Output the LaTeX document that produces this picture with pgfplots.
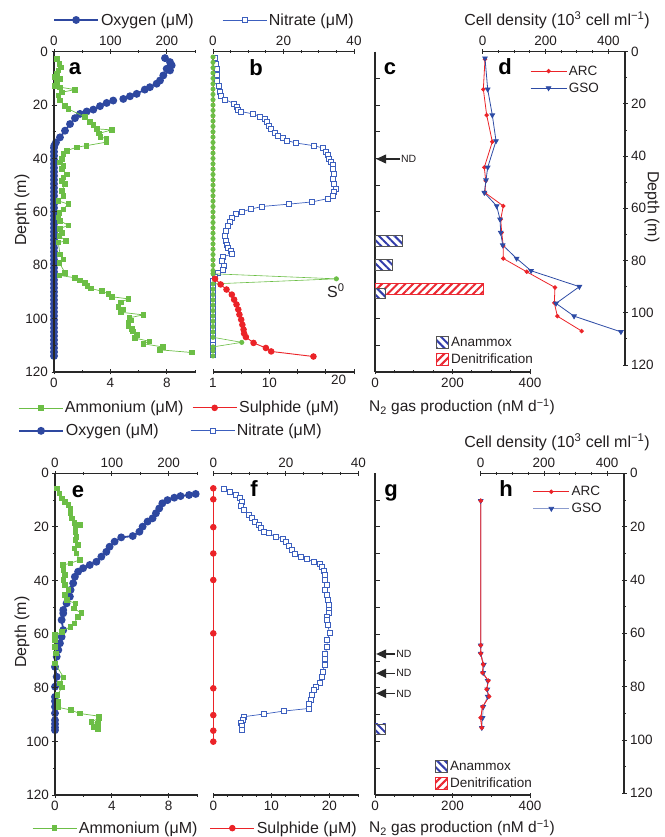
\documentclass[border=0pt]{standalone}
\usepackage{fontspec}
\setmainfont{Liberation Sans}
\usepackage{pgfplots}
\pgfplotsset{compat=1.18}
\usetikzlibrary{patterns.meta,arrows.meta}

\definecolor{oxyblue}{RGB}{46,72,160}
\definecolor{nitblue}{RGB}{60,95,190}
\definecolor{ammgreen}{RGB}{108,190,70}
\definecolor{sulred}{RGB}{235,35,40}
\definecolor{gsoblue}{RGB}{45,75,165}
\definecolor{anblue}{RGB}{50,60,170}
\definecolor{denred}{RGB}{235,40,50}
\definecolor{axc}{RGB}{40,40,40}
\definecolor{txc}{RGB}{35,31,32}

\newcommand{\tks}{\fontsize{13.5}{15}\selectfont}
\newcommand{\lbs}{\fontsize{16}{19}\selectfont}
\newcommand{\nlb}{\fontsize{15.5}{18}\selectfont}
\newcommand{\sms}{\fontsize{13.5}{16}\selectfont}
\newcommand{\nds}{\fontsize{10.5}{12}\selectfont}
\newcommand{\pls}{\fontsize{22}{24}\selectfont\bfseries}

\pgfplotsset{
  base/.style={scale only axis, clip=false, anchor=south west,
    y dir=reverse, ymin=0, ymax=120,
    axis line style={line width=1.1pt, draw=axc},
    tick style={line width=0.9pt, draw=axc},
    major tick length=5pt, minor tick length=3pt,
    tick label style={font=\tks, text=txc},
    /pgf/number format/assume math mode=true,
    xtick align=inside, ytick align=outside,
    legend cell align=left,
    legend style={draw=none, fill=none, font=\lbs, text=txc, inner sep=0pt, anchor=west},
  },
  noarr/.style={axis line style={-},
    every outer x axis line/.append style={-},
    every outer y axis line/.append style={-}},
  lineleg/.style={legend image code/.code={\draw[mark repeat=2,mark phase=2,##1] plot coordinates {(0pt,0pt) (22pt,0pt) (44pt,0pt)};}},
  shortleg/.style={legend image code/.code={\draw[mark repeat=2,mark phase=2,##1] plot coordinates {(0pt,0pt) (18pt,0pt) (36pt,0pt)};}},
  boxleg/.style={legend image code/.code={\draw[##1] (0pt,-6pt) rectangle (12pt,6pt);}},
  oxy/.style={oxyblue, line width=1.8pt, mark=*, mark size=3pt, mark options={solid, fill=oxyblue, draw=oxyblue}},
  amm/.style={ammgreen, line width=0.7pt, mark=square*, mark size=2.3pt, mark options={fill=ammgreen, draw=ammgreen}},
  nit/.style={nitblue, line width=0.7pt, mark=square*, mark size=2.5pt, mark options={fill=white, draw=nitblue, line width=0.8pt}},
  sul/.style={sulred, line width=0.9pt, mark=*, mark size=2.8pt, mark options={fill=sulred, draw=sulred}},
  szero/.style={ammgreen, line width=0.6pt, mark=*, mark size=2.2pt, mark options={fill=ammgreen, draw=ammgreen}},
  arc/.style={sulred, line width=0.8pt, mark=*, mark size=1.8pt, mark options={fill=sulred, draw=sulred}},
  gso/.style={gsoblue, line width=0.8pt, mark=triangle*, mark size=2.6pt, mark options={rotate=180, fill=gsoblue, draw=gsoblue}},
  anam/.style={xbar, bar width=4, bar shift=0pt, draw=axc!80, line width=0.9pt, fill=white,
    postaction={pattern color=anblue, pattern={Lines[angle=-45,distance=5.5pt,line width=2pt]}}, boxleg},
  denit/.style={xbar, bar width=4, bar shift=0pt, draw=denred, line width=0.9pt, fill=white,
    postaction={pattern color=denred, pattern={Lines[angle=45,distance=5.5pt,line width=2pt]}}, boxleg},
}

\begin{document}
\begin{tikzpicture}
\useasboundingbox (0,0) rectangle (664pt,837pt);

% ---------- a: oxygen (top axis)
\begin{axis}[base, at={(54pt,465pt)}, width=141pt, height=320.3pt,
  axis x line=top, axis y line=none, noarr, ytick=\empty,
  xmin=0, xmax=250, xtick={0,100,200}, minor xtick={50,150,250},
  lineleg, legend style={at={(axis description cs:-0.007,1.099)}}]
\addplot[oxy] coordinates {(196.8,2.4)(205.7,3.9)(208.7,5.1)(199.8,6.4)(205.7,7.0)(193.8,8.9)(188,10.8)(182,12.0)(170,13.3)(161,14.2)(146.6,15.8)(134.7,16.7)(122.9,17.7)};
\addlegendentry{Oxygen (μM)}
\addplot[oxy, forget plot] coordinates {(105,18.3)(93.4,19.2)(81.6,20.4)(69.7,21.7)(58,22.4)(46.1,23.3)(37.2,24.9)(28.4,27.1)(19.5,29.6)(10.6,32.1)(3.5,34.0)(0.5,35.2)
(0,36)(0,37.5)(0,39)(0,40.5)(0,42)(0,43.5)(0,45)(0,46.5)(0,48)(0,49.5)(0,51)(0,52.5)(0,54)(0,55.5)(0,57)(0,58.5)(0,60)(0,61.5)(0,63)(0,64.5)(0,66)(0,67.5)(0,69)(0,70.5)(0,72)(0,73.5)(0,75)(0,76.5)(0,78)(0,79.5)(0,81)(0,82.5)(0,84)(0,85.5)(0,87)(0,88.5)(0,90)(0,91.5)(0,93)(0,94.5)(0,96)(0,97.5)(0,99)(0,100.5)(0,102)(0,103.5)(0,105)(0,106.5)(0,108)(0,109.5)(0,111)(0,112.5)(0,114)};
\end{axis}

% ---------- a: ammonium (bottom axis)
\begin{axis}[base, at={(54pt,465pt)}, width=141pt, height=320.3pt,
  axis x line=bottom, axis y line=left, noarr,
  xmin=0, xmax=10, xtick={0,4,8}, minor xtick={2,6,10},
  ytick={0,20,...,120}, minor ytick={10,30,...,110},
  lineleg, legend style={at={(axis description cs:-0.255,-0.112)}}]
\addplot[amm] coordinates {(0.19,2.6)(0.38,4.5)(0.47,5.8)(0.3,7.0)(0.19,8.3)(0.07,9.5)(0.43,10.2)(0.19,11.4)(0.07,12.7)(0.43,13.3)(1.49,14.2)(0.55,15.2)(0.3,16.4)(0.43,18.3)(0.78,20.2)(1.01,21.4)(2.2,24.5)(2.55,26.2)(2.79,27.4)(3.03,28.9)(4.09,29.3)(3.2,30.6)(3.3,31.8)(3.7,32.7)(3.7,33.9)(2.3,35.2)(1.6,35.8)(0.9,37.1)(0.66,38.3)(0.55,40.2)(0.43,41.5)(0.66,42.7)(0.55,44.0)(0.9,45.9)(0.66,47.1)(0.55,48.4)(0.78,49.6)(0.55,52.1)(0.66,54.0)(0.3,55.9)(1.01,57.1)(0.66,59.0)(0.38,60.3)(0.3,62.1)(0.43,63.4)(1.01,65.0)(0.43,66.3)(0.55,67.8)(0.38,69.0)(0.85,70.9)(0.3,71.5)(0.43,75.9)(0.66,77.8)(0.38,79.1)(0.78,82.8)(0.38,83.8)(1.49,84.7)(1.84,85.6)(2.2,86.6)(2.36,87.8)(2.6,88.7)(3.38,89.7)(3.85,90.7)(4.09,91.8)(5.27,92.6)(4.73,93.9)(4.56,95.6)(4.87,96.6)(4.73,97.6)(6.33,98.6)(5.34,99.7)(5.44,100.6)(5.27,101.6)(5.27,102.6)(5.51,103.9)(5.58,104.7)(5.86,106.0)(5.74,107.3)(6.76,108.5)(6.33,109.4)(7.7,110.6)(7.52,111.7)(9.77,112.7)};
\addlegendentry{Ammonium (μM)}
\end{axis}

% ---------- b: nitrate (top axis)
\begin{axis}[base, at={(213pt,465pt)}, width=141pt, height=320.3pt,
  axis x line=top, axis y line=none, noarr, ytick=\empty,
  xmin=0, xmax=40, xtick={0,20,40}, minor xtick={5,10,15,25,30,35},
  lineleg, legend style={at={(axis description cs:0.064,1.099)}}]
\addplot[nit] coordinates {(0.57,2.4)(0.85,4.5)(1.2,6.6)(1.05,8.6)(1.2,10.8)(1.7,12.9)(2.0,14.9)(2.2,16.7)(3.4,17.9)(6.0,19.5)(6.7,20.8)(7.2,21.7)(7.9,22.4)(11.3,23.3)(13.3,24.3)(14.8,25.2)(15.2,26.4)(15.9,27.7)(16.5,28.9)(17.6,30.5)(18.5,31.4)(19.8,32.4)(21.1,33.3)(23.5,34.2)(28.5,35.2)(31.3,36.1)(32.1,37.5)(32.5,38.7)(33.0,40.0)(33.5,41.2)(34.0,42.5)(34.1,44.0)(34.3,45.9)(34.1,47.7)(34.4,49.6)(34.9,51.5)(34.4,52.7)(34.0,54.0)(32.7,55.0)(28.0,56.3)(21.6,57.1)(13.8,58.0)(10.7,59.0)(8.1,60.0)(6.5,60.9)(5.5,62.2)(4.8,63.7)(4.3,65.3)(3.7,67.2)(3.4,69.1)(3.6,70.9)(3.9,72.2)(4.3,73.4)(5.0,74.7)(5.3,75.9)(2.8,76.8)(2.5,78.5)(3.1,80.1)(2.9,81.6)(1.5,82.8)(0.6,84.3)(0.1,86)(0.1,88)(0.1,90)(0.1,92)(0.1,94)(0.1,96)(0.1,98)(0.1,100)(0.1,102)(0.1,104)(0.1,106)(0.1,108)(0.1,110)(0.1,112)(0.1,113.5)};
\addlegendentry{Nitrate (μM)}
\end{axis}

% ---------- b: sulphide (bottom axis)
\begin{axis}[base, at={(213pt,465pt)}, width=141pt, height=320.3pt,
  axis x line=bottom, axis y line=none, noarr, ytick=\empty,
  xmin=0, xmax=24, xtick={0,4.8,9.6,14.4,19.2,24}, xticklabels={1,,10,,,},
  extra x ticks={21.4}, extra x tick labels={20}, extra x tick style={major tick length=0pt},
  lineleg, legend style={at={(axis description cs:-0.149,-0.112)}}]
\addplot[sulred, line width=0.8pt, forget plot] coordinates {(0,2)(0,85.1)};
\addplot[szero, forget plot] coordinates {(0,2)(0,4)(0,6)(0,8)(0,10)(0,12)(0,14)(0,16)(0,18)(0,20)(0,22)(0,24)(0,26)(0,28)(0,30)(0,32)(0,34)(0,36)(0,38)(0,40)(0,42)(0,44)(0,46)(0,48)(0,50)(0,52)(0,54)(0,56)(0,58)(0,60)(0,62)(0,64)(0,66)(0,68)(0,70)(0,72)(0,74)(0,76)(0,78)(0,80)(0,82)(0,83.2)(21.0,85.1)(0,87)(0,89)(0,91)(0,93)(0,95)(0,97)(0,99)(0,101)(0,103)(0,105)(0,107)(4.9,108.9)(0,110.6)(0,112)(0,114)};
\addplot[sul] coordinates {(0.34,85.1)(1.3,87.2)(2.3,89.1)(3.2,91.0)(3.6,92.9)(4.0,94.7)(4.3,96.6)(4.5,98.5)(4.8,100.4)(5.0,102.3)(5.2,104.1)(5.3,105.6)(5.6,106.9)(6.9,109.1)(9.0,111.0)(9.9,112.3)(17.1,114.2)};
\addlegendentry{Sulphide (μM)}
\node[font=\lbs, text=txc] at (axis cs:20.9,89.6) {S\textsuperscript{0}};
\end{axis}

% ---------- c: N2 production
\begin{axis}[base, at={(375pt,465pt)}, width=155pt, height=320.3pt,
  axis x line=bottom, axis y line=left, noarr,
  xmin=0, xmax=400, xtick={0,200,400}, minor xtick={50,100,150,250,300,350},
  ytick={10,20,...,110}, yticklabels={}, ytick align=inside,
  legend style={font=\sms, at={(axis description cs:0.394,0.066)}, row sep=2pt}]
\addplot[denit, forget plot] coordinates {(281,89)};
\addplot[anam] coordinates {(71,71)(44.8,79.8)(25.8,90.6)};
\addlegendentry{Anammox}
\addlegendimage{denit}
\addlegendentry{Denitrification}
\draw[axc, line width=1.2pt, -{Triangle[length=10pt,width=9pt]}] (axis cs:64,40.2) -- (axis cs:3,40.2);
\node[anchor=west, font=\nds, text=txc, inner sep=1pt] at (axis cs:64,40.2) {ND};
\end{axis}

% ---------- d: cell density
\begin{axis}[base, at={(482.7pt,472pt)}, width=142.3pt, height=313.3pt,
  axis x line=top, axis y line=right, noarr,
  xmin=0, xmax=453, xtick={0,200,400}, minor xtick={50,100,150,250,300,350},
  ytick={0,20,...,120}, minor ytick={10,30,...,110}, yticklabel pos=right,
  shortleg, legend style={font=\sms, at={(axis description cs:0.332,0.911)}, row sep=2pt}]
\addplot[arc] coordinates {(7.3,2.9)(2,14.4)(12.7,24.3)(30.6,34.5)(5.1,44.3)(9.6,49.4)(7.3,54.0)(65.6,59.1)(57.3,64.2)(60.5,69.3)(65.6,74.4)(65.6,79.2)(140,84.3)(230,90.3)(228,96.2)(237.6,101.3)(315,107.0)};
\addlegendentry{ARC}
\addplot[gso] coordinates {(7.3,2.5)(15.9,14.4)(30.6,24.3)(42.4,34.2)(15.9,44.3)(10.5,49.2)(5.1,54.0)(44.6,59.1)(55.1,64.2)(57.3,69.3)(63.7,74.1)(108,79.2)(154,83.9)(307.7,90.0)(233.5,96.4)(290.8,101.3)(440,107.3)};
\addlegendentry{GSO}
\end{axis}

% ---------- e: oxygen (top axis)
\begin{axis}[base, at={(55pt,42pt)}, width=142pt, height=321.7pt,
  axis x line=top, axis y line=none, noarr, ytick=\empty,
  xmin=0, xmax=250, xtick={0,100,200}, minor xtick={50,150,250},
  lineleg, legend style={at={(axis description cs:-0.261,1.132)}}]
\addplot[oxy] coordinates {(247.7,7.7)(236,8.1)(221,8.5)(210,9.1)(198,10.0)(189,11.2)(183.5,13.1)(177.7,14.9)(171.8,16.8)(163,18.0)(154.3,19.9)(148.6,21.8)(136.9,23.4)(116.6,23.9)(104.9,25.5)(96.1,27.4)(90.4,29.3)(81.6,31.1)(72.9,33.0)(61.2,34.2)(49.5,35.4)(40.7,36.7)(35,38.6)(32,41.0)(27.4,43.5)(26.2,46.0)(20.4,48.5)(14.5,51.0)(14.5,52.2)(11.7,54.7)(14.5,58.5)(11.7,61.0)(8.7,63.4)(5.8,65.9)(3,68.4)(0,72.2)(3,75.9)(0,79.6)(0,83.4)(0,85.0)(0,87.1)(0,89.5)(0,92.1)(0,93.5)(0,94.8)(0,95.8)};
\addlegendentry{Oxygen (μM)}
\end{axis}

% ---------- e: ammonium (bottom axis)
\begin{axis}[base, at={(55pt,42pt)}, width=142pt, height=321.7pt,
  axis x line=bottom, axis y line=left, noarr,
  xmin=0, xmax=10, xtick={0,4,8}, minor xtick={2,6,10},
  ytick={0,20,...,120}, minor ytick={10,30,...,110},
  lineleg, legend style={at={(axis description cs:-0.162,-0.103)}}]
\addplot[amm] coordinates {(0.12,5.6)(0.31,7.5)(0.48,9.3)(0.71,10.6)(0.95,11.8)(1.07,13.1)(1.07,14.9)(1.19,16.8)(1.36,18.4)(1.74,19.3)(1.43,20.5)(1.43,21.8)(1.5,23.6)(1.43,24.9)(1.6,26.8)(1.36,28.0)(1.5,29.9)(1.74,32.3)(1.07,33.6)(0.55,34.2)(0.6,36.1)(0.71,37.9)(0.6,39.8)(0.71,41.7)(0.95,43.5)(0.71,45.4)(0.83,47.3)(1.43,48.5)(1.31,50.4)(1.85,52.1)(1.6,53.5)(1.36,56.0)(1.07,57.2)(0.48,59.1)(0,60.3)(0,62.2)(0,64.7)(0.07,67.2)(0,70.9)(0.6,76.1)(0.36,78.4)(0.48,79.9)(0.17,82.7)(0.24,85.2)(0.24,87.3)(1.12,88.3)(1.74,89.6)(3.1,90.6)(3.1,91.4)(2.55,92.7)(3.0,93.5)(2.69,94.5)(3.0,95.5)};
\addlegendentry{Ammonium (μM)}
\end{axis}

% ---------- f: nitrate (top axis)
\begin{axis}[base, at={(213.3pt,42pt)}, width=145pt, height=321.7pt,
  axis x line=top, axis y line=none, noarr, ytick=\empty,
  xmin=0, xmax=40, xtick={0,20,40}, minor xtick={5,10,15,25,30,35},
  lineleg, legend style={at={(axis description cs:-0.161,1.132)}}]
\addplot[nit] coordinates {(3.0,6.0)(4.7,6.9)(6.1,8.1)(7.4,9.3)(7.9,10.6)(7.6,12.2)(8.4,13.7)(9.8,15.6)(10.7,16.8)(11.6,18.1)(12.6,19.3)(13.0,20.5)(13.9,21.8)(15.3,22.4)(17.2,23.7)(19.1,24.3)(20.0,25.5)(20.9,27.1)(21.6,28.6)(22.5,30.1)(24.2,31.1)(25.9,32.1)(27.7,33.0)(29.3,33.8)(30.0,34.8)(30.5,36.3)(30.7,37.9)(30.7,39.8)(31.2,41.7)(30.9,43.5)(31.2,45.4)(31.6,47.3)(31.9,49.1)(31.9,51.0)(31.8,52.2)(31.4,53.5)(31.4,54.7)(31.6,56.6)(32.1,59.7)(31.4,62.2)(31.4,64.7)(30.9,67.2)(30.7,69.4)(30.7,71.5)(30.2,74.0)(30.0,76.1)(29.3,78.1)(28.4,79.6)(27.7,80.9)(27.3,82.7)(26.8,84.6)(26.5,86.1)(26.5,87.7)(19.4,88.7)(13.9,89.8)(8.4,90.8)(8.2,92.1)(7.6,93.0)(7.9,94.3)(7.9,95.8)};
\addlegendentry{Nitrate (μM)}
\end{axis}

% ---------- f: sulphide (bottom axis)
\begin{axis}[base, at={(213.3pt,42pt)}, width=145pt, height=321.7pt,
  axis x line=bottom, axis y line=none, noarr, ytick=\empty,
  xmin=0, xmax=25, xtick={0,10,20}, minor xtick={2.5,5,7.5,12.5,15,17.5,22.5,25},
  lineleg, legend style={at={(axis description cs:-0.025,-0.103)}}]
\addplot[sul] coordinates {(0,5.6)(0,9.7)(0,20.1)(0,29.9)(0,39.8)(0,59.7)(0,80.2)(0,90.2)(0,96.0)(0,100.1)};
\addlegendentry{Sulphide (μM)}
\end{axis}

% ---------- g: N2 production
\begin{axis}[base, at={(375pt,42pt)}, width=155pt, height=321.7pt,
  axis x line=bottom, axis y line=left, noarr,
  xmin=0, xmax=400, xtick={0,200,400}, minor xtick={50,100,150,250,300,350},
  ytick={10,20,...,110}, yticklabels={}, ytick align=inside,
  legend style={font=\sms, at={(axis description cs:0.387,0.061)}, row sep=2pt}]
\addplot[anam] coordinates {(28,95.5)};
\addlegendentry{Anammox}
\addlegendimage{denit}
\addlegendentry{Denitrification}
\draw[axc, line width=1.2pt, -{Triangle[length=10pt,width=9pt]}] (axis cs:52,67.4) -- (axis cs:3,67.4);
\node[anchor=west, font=\nds, text=txc, inner sep=1pt] at (axis cs:52,67.4) {ND};
\draw[axc, line width=1.2pt, -{Triangle[length=10pt,width=9pt]}] (axis cs:52,74.6) -- (axis cs:3,74.6);
\node[anchor=west, font=\nds, text=txc, inner sep=1pt] at (axis cs:52,74.6) {ND};
\draw[axc, line width=1.2pt, -{Triangle[length=10pt,width=9pt]}] (axis cs:52,82.1) -- (axis cs:3,82.1);
\node[anchor=west, font=\nds, text=txc, inner sep=1pt] at (axis cs:52,82.1) {ND};
\end{axis}

% ---------- h: cell density
\begin{axis}[base, at={(480.7pt,43.7pt)}, width=143.3pt, height=320pt,
  axis x line=top, axis y line=right, noarr,
  xmin=0, xmax=453, xtick={0,200,400}, minor xtick={50,100,150,250,300,350},
  ytick={0,20,...,120}, minor ytick={10,30,...,110}, yticklabel pos=right,
  shortleg, legend style={font=\sms, at={(axis description cs:0.363,0.916)}, row sep=2pt}]
\addplot[arc] coordinates {(0,10.3)(0,64.5)(0,67.6)(8,71.7)(6,74.8)(24,77.8)(19,81.0)(26,83.7)(6,87.6)(0,91.7)(3.5,95.4)};
\addlegendentry{ARC}
\addplot[gso, gsoblue!55] coordinates {(0,10.3)(0,64.5)(0,67.6)(10,71.7)(8,74.8)(22,77.8)(21,81.0)(22,83.7)(8,87.6)(6,91.7)(3.5,95.4)};
\addlegendentry{GSO}
\addplot[arc, forget plot] coordinates {(0,10.3)(0,64.5)(0,67.6)(8,71.7)(6,74.8)(24,77.8)(19,81.0)(26,83.7)(6,87.6)(0,91.7)(3.5,95.4)};
\end{axis}

% ---------- panel letters and shared labels
\node[anchor=base, font=\pls, text=black] at (75pt,762pt) {a};
\node[anchor=base, font=\pls, text=black] at (256pt,761pt) {b};
\node[anchor=base, font=\pls, text=black] at (390pt,762pt) {c};
\node[anchor=base, font=\pls, text=black] at (505pt,762pt) {d};
\node[anchor=base, font=\pls, text=black] at (78pt,339pt) {e};
\node[anchor=base, font=\pls, text=black] at (254pt,340pt) {f};
\node[anchor=base, font=\pls, text=black] at (391pt,340pt) {g};
\node[anchor=base, font=\pls, text=black] at (506pt,340pt) {h};

\node[rotate=90, font=\lbs, text=txc] at (22pt,627pt) {Depth (m)};
\node[rotate=90, font=\lbs, text=txc] at (22pt,205pt) {Depth (m)};
\node[rotate=-90, font=\lbs, text=txc] at (652pt,630pt) {Depth (m)};
\node[font=\nlb, text=txc] at (462pt,430pt) {N\textsubscript{2} gas production (nM d\textsuperscript{−1})};
\node[font=\nlb, text=txc] at (462pt,9pt) {N\textsubscript{2} gas production (nM d\textsuperscript{−1})};
\node[font=\lbs, text=txc] at (557pt,817pt) {Cell density (10\textsuperscript{3} cell ml\textsuperscript{−1})};
\node[font=\lbs, text=txc] at (557pt,395pt) {Cell density (10\textsuperscript{3} cell ml\textsuperscript{−1})};
\end{tikzpicture}
\end{document}
